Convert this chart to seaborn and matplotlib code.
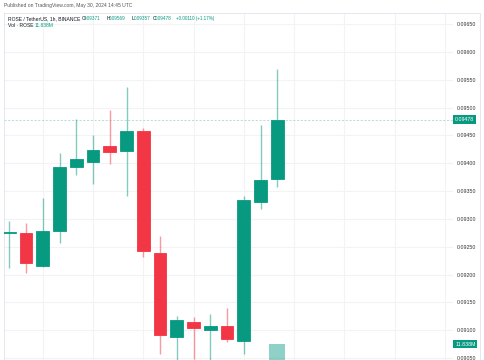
import matplotlib
matplotlib.use("Agg")
import matplotlib.pyplot as plt
import seaborn as sns
import pandas as pd
import numpy as np

# ---- data (ROSE / TetherUS, 1h) ----
opens  = [0.09274, 0.09274, 0.09215, 0.09278, 0.09394, 0.09403, 0.09430, 0.09421,
          0.09458, 0.09238, 0.09088, 0.09115, 0.09100, 0.09108, 0.09081, 0.09331, 0.09371]
highs  = [0.09296, 0.09293, 0.09338, 0.09418, 0.09479, 0.09451, 0.09496, 0.09536,
          0.09464, 0.09269, 0.09126, 0.09123, 0.09129, 0.09139, 0.09341, 0.09469, 0.09569]
lows   = [0.09212, 0.09203, 0.09214, 0.09257, 0.09378, 0.09363, 0.09399, 0.09341,
          0.09232, 0.09058, 0.09040, 0.09049, 0.09040, 0.09078, 0.09058, 0.09318, 0.09357]
closes = [0.09276, 0.09221, 0.09279, 0.09393, 0.09407, 0.09424, 0.09420, 0.09457,
          0.09242, 0.09091, 0.09118, 0.09103, 0.09107, 0.09085, 0.09334, 0.09369, 0.09478]
last_volume = 11.838e6
price_ticks = [0.0905, 0.0910, 0.0915, 0.0920, 0.0925, 0.0930, 0.0935, 0.0940,
               0.0945, 0.0950, 0.0955, 0.0960, 0.0965]

UP = "#089981"
DOWN = "#F23645"
GRID = "#f2f3f6"
TXT = "#131722"
AX_TXT = "#333333"

sns.set_theme(style="white")
plt.rcParams['font.family'] = ['Liberation Sans', 'DejaVu Sans']

df = pd.DataFrame({"o": opens, "h": highs, "l": lows, "c": closes})
df["i"] = np.arange(len(df))
df["up"] = df["c"] >= df["o"]

W, H = 485, 360
fig = plt.figure(figsize=(W / 100, H / 100), dpi=100)
fig.patch.set_facecolor("white")

# pane in pixel coordinates
px_l, px_r, px_t, px_b = 4, 453, 13, 360
ax = fig.add_axes([px_l / W, 1 - px_b / H, (px_r - px_l) / W, (px_b - px_t) / H])
ax.set_facecolor("white")

ax.set_xlim(-0.316, 26.49)
ax.set_ylim(0.090464, 0.096698)

# grid
for t in price_ticks:
    ax.axhline(t, color=GRID, lw=0.8, zorder=0)
for gx in np.arange(2, 27, 3):
    ax.axvline(gx, color=GRID, lw=0.8, zorder=0)

# candles
for _, r in df.iterrows():
    col = UP if r.up else DOWN
    ax.vlines(r.i, r.l, r.h, color=col, alpha=0.5, lw=1.0, zorder=2)
    lo, hi = min(r.o, r.c), max(r.o, r.c)
    ax.bar(r.i, max(hi - lo, 0.000012), bottom=lo, width=0.76, color=col,
           edgecolor=col, linewidth=0.6, zorder=3)

# current price dashed line
last = df.iloc[-1]
ax.axhline(last.c, color=UP, lw=0.6, ls=(0, (2.5, 2)), alpha=0.35, zorder=1)

# volume overlay (twin axis)
axv = ax.twinx()
axv.set_ylim(11.0e6, 29.18e6)
axv.bar(last.i, last_volume, width=0.94, color=UP, alpha=0.45, linewidth=0, zorder=1)
axv.set_yticks([])
for s in axv.spines.values():
    s.set_visible(False)

ax.set_xticks([])
ax.set_yticks(price_ticks)
ax.yaxis.tick_right()
ax.set_yticklabels([f"{t:.5f}" for t in price_ticks], fontsize=3.8, color=AX_TXT)
ax.tick_params(axis="y", length=0, pad=3)
for s in ["right", "bottom"]:
    ax.spines[s].set_visible(False)
for s in ["left", "top"]:
    ax.spines[s].set_color("#e0e3eb")
    ax.spines[s].set_linewidth(0.6)

# price axis border and top border extension
fig.add_artist(plt.Line2D([px_r / W, 480 / W], [1 - px_t / H, 1 - px_t / H],
                          color="#e0e3eb", lw=0.6))
fig.add_artist(plt.Line2D([480 / W, 480 / W], [0, 1 - px_t / H], color="#e0e3eb", lw=0.6))

# price labels with teal background
def badge(y_val, text, axis):
    axis.annotate(text, xy=(1.0, y_val), xycoords=("axes fraction", "data"),
                  xytext=(1.5, 0), textcoords="offset points", ha="left", va="center",
                  fontsize=3.8, color="white",
                  bbox=dict(boxstyle="square,pad=0.35", fc=UP, ec="none"), zorder=10,
                  annotation_clip=False)

badge(last.c, f"{last.c:.5f}", ax)
badge(last_volume, "11.838M", axv)

# header texts (pixel positions)
def ftxt(x, y, s, color=TXT, size=3.6):
    fig.text(x / W, 1 - y / H, s, fontsize=size, color=color, ha="left", va="center")

ftxt(4, 6, "Published on TradingView.com, May 30, 2024 14:45 UTC", color="#555555")
ftxt(8, 18.3, "ROSE / TetherUS, 1h, BINANCE")
VS = 3.3
ftxt(81.7, 18.3, "O")
ftxt(84.3, 18.3, f"{opens[-1]:.5f}", color=UP, size=VS)
ftxt(106.5, 18.3, "H")
ftxt(109.3, 18.3, f"{highs[-1]:.5f}", color=UP, size=VS)
ftxt(131.5, 18.3, "L")
ftxt(133.8, 18.3, f"{lows[-1]:.5f}", color=UP, size=VS)
ftxt(152.5, 18.3, "C")
ftxt(155.3, 18.3, f"{closes[-1]:.5f}", color=UP, size=VS)
ftxt(176.0, 18.3, "+0.00110 (+1.17%)", color=UP, size=3.3)
ftxt(8, 25.5, "Vol · ROSE")
ftxt(35, 25.5, "11.838M", color=UP)

fig.savefig("out.png", dpi=100, facecolor="white")
